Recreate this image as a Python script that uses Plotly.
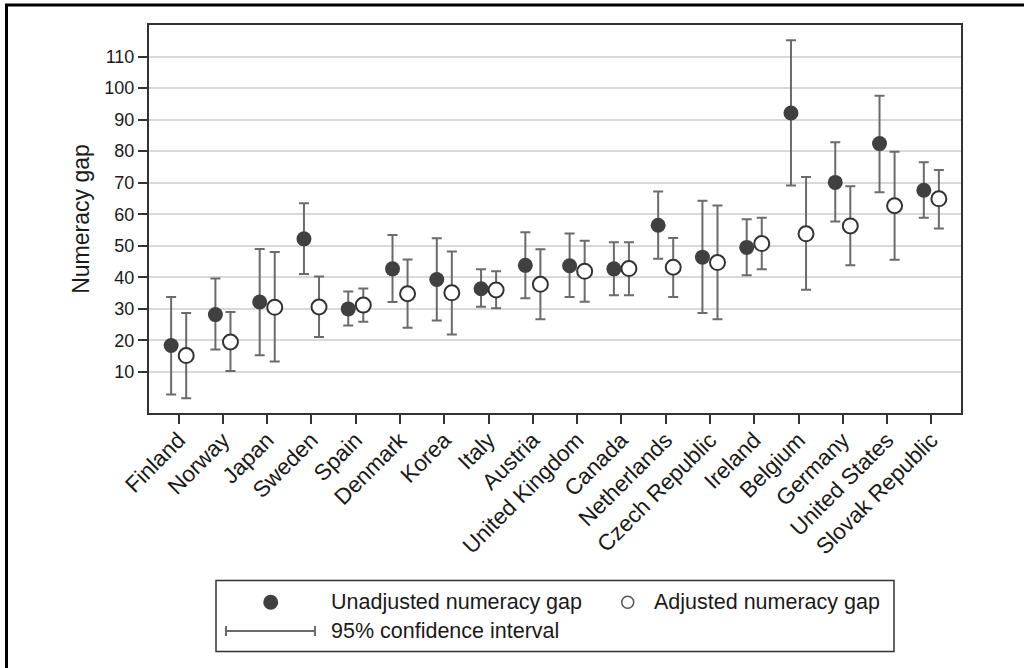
import plotly.graph_objects as go

countries = ["Finland", "Norway", "Japan", "Sweden", "Spain", "Denmark", "Korea", "Italy",
             "Austria", "United Kingdom", "Canada", "Netherlands", "Czech Republic", "Ireland",
             "Belgium", "Germany", "United States", "Slovak Republic"]

unadj = [18.4, 28.2, 32.2, 52.2, 30.0, 42.7, 39.3, 36.4, 43.8, 43.7, 42.7, 56.5, 46.4, 49.5, 92.1, 70.1, 82.4, 67.6]
unadj_hi = [33.8, 39.6, 49.0, 63.5, 35.5, 53.4, 52.4, 42.6, 54.3, 53.9, 51.1, 67.2, 64.3, 58.4, 115.2, 82.8, 97.6, 76.5]
unadj_lo = [2.9, 17.1, 15.3, 41.1, 24.7, 32.2, 26.3, 30.7, 33.4, 33.8, 34.3, 45.9, 28.7, 40.7, 69.1, 57.7, 67.0, 58.9]

adj = [15.2, 19.5, 30.5, 30.6, 31.2, 34.8, 35.1, 36.0, 37.8, 41.9, 42.8, 43.2, 44.7, 50.7, 53.8, 56.3, 62.7, 64.9]
adj_hi = [28.7, 29.0, 48.0, 40.3, 36.5, 45.7, 48.2, 41.9, 48.9, 51.6, 51.1, 52.5, 62.8, 58.9, 71.8, 68.9, 79.8, 74.0]
adj_lo = [1.7, 10.3, 13.3, 21.1, 25.9, 24.0, 21.9, 30.2, 26.7, 32.3, 34.3, 33.8, 26.7, 42.6, 36.1, 43.8, 45.6, 55.5]

y_ticks = [10, 20, 30, 40, 50, 60, 70, 80, 90, 100, 110]

W, H = 1024, 668
ML, MR, MT, MB = 149, 63, 25, 255
PW, PH = W - ML - MR, H - MT - MB

def px(x):
    return (x - ML) / PW

def py(y):
    return 1 - (y - MT) / PH

idx = list(range(len(countries)))
off = 0.17
FONT = "Liberation Sans, Arial, sans-serif"
TXT = "#1a1a1a"
ERR_COL = "#6b6b6b"
DOT_COL = "#404040"

fig = go.Figure()
fig.add_trace(go.Scatter(
    x=[i - off for i in idx], y=unadj, mode="markers",
    marker=dict(size=15, color=DOT_COL, line=dict(width=0)),
    error_y=dict(type="data", symmetric=False,
                 array=[h - v for h, v in zip(unadj_hi, unadj)],
                 arrayminus=[v - l for v, l in zip(unadj, unadj_lo)],
                 color=ERR_COL, thickness=2, width=5),
    showlegend=False, name="Unadjusted numeracy gap"))
fig.add_trace(go.Scatter(
    x=[i + off for i in idx], y=adj, mode="markers",
    marker=dict(size=15, color="white", line=dict(width=2, color="#333333")),
    error_y=dict(type="data", symmetric=False,
                 array=[h - v for h, v in zip(adj_hi, adj)],
                 arrayminus=[v - l for v, l in zip(adj, adj_lo)],
                 color=ERR_COL, thickness=2, width=5),
    showlegend=False, name="Adjusted numeracy gap"))

fig.update_layout(
    width=W, height=H,
    margin=dict(l=ML, r=MR, t=MT, b=MB),
    paper_bgcolor="white", plot_bgcolor="white",
    font=dict(family=FONT, size=17, color=TXT),
    showlegend=False,
)
fig.update_xaxes(
    range=[-0.67, len(countries) - 1 + 0.67],
    tickmode="array", tickvals=idx, ticktext=countries, tickangle=-45,
    ticks="outside", ticklen=9, tickwidth=1.5, tickcolor="#333333",
    ticklabelstandoff=-6,
    showgrid=False, zeroline=False,
    showline=True, linecolor="#333333", linewidth=2, mirror=True,
    tickfont=dict(size=22.5, family=FONT, color=TXT),
)
fig.update_yaxes(
    range=[-3, 120],
    tickmode="array", tickvals=y_ticks,
    ticks="outside", ticklen=9, tickwidth=1.5, tickcolor="#333333",
    showgrid=True, gridcolor="#d9d9d9", gridwidth=1.5, zeroline=False,
    showline=True, linecolor="#333333", linewidth=2, mirror=True,
    tickfont=dict(size=18, family=FONT, color=TXT),
    title=dict(text="Numeracy gap", font=dict(size=23, family=FONT, color=TXT), standoff=8),
)

shapes = []
# outer frame
shapes.append(dict(type="rect", xref="paper", yref="paper",
                   x0=px(6.5), x1=px(W + 20), y0=py(H + 20), y1=py(5),
                   line=dict(color="black", width=3), fillcolor="rgba(0,0,0,0)", layer="below"))
# legend box
shapes.append(dict(type="rect", xref="paper", yref="paper",
                   x0=px(216), x1=px(894), y0=py(651.5), y1=py(580.5),
                   line=dict(color="#333333", width=1.5), fillcolor="white"))
# legend filled marker
shapes.append(dict(type="circle", xref="paper", yref="paper",
                   xsizemode="pixel", ysizemode="pixel",
                   xanchor=px(270.7), yanchor=py(602.3),
                   x0=-7.5, x1=7.5, y0=-7.5, y1=7.5,
                   fillcolor=DOT_COL, line=dict(width=0)))
# legend hollow marker
shapes.append(dict(type="circle", xref="paper", yref="paper",
                   xsizemode="pixel", ysizemode="pixel",
                   xanchor=px(627.7), yanchor=py(602.3),
                   x0=-6, x1=6, y0=-6, y1=6,
                   fillcolor="white", line=dict(width=1.5, color="#555555")))
# legend CI line
shapes.append(dict(type="line", xref="paper", yref="paper",
                   x0=px(226), x1=px(315), y0=py(631), y1=py(631),
                   line=dict(color=ERR_COL, width=2)))
for xc in (226, 315):
    shapes.append(dict(type="line", xref="paper", yref="paper",
                       x0=px(xc), x1=px(xc), y0=py(626), y1=py(636),
                       line=dict(color=ERR_COL, width=2)))
fig.update_layout(shapes=shapes)

legend_texts = [
    ("Unadjusted numeracy gap", 329, 602.3),
    ("Adjusted numeracy gap", 651.7, 602.3),
    ("95% confidence interval", 329, 631),
]
annotations = []
for txt, x, y in legend_texts:
    annotations.append(dict(text=txt, xref="paper", yref="paper", x=px(x), y=py(y),
                            xanchor="left", yanchor="middle", showarrow=False,
                            font=dict(size=21.5, family=FONT, color=TXT)))
fig.update_layout(annotations=annotations)

fig.write_html("out.html", config={"displayModeBar": False},
               post_script="document.body.style.margin='0';document.body.style.overflow='hidden';")
